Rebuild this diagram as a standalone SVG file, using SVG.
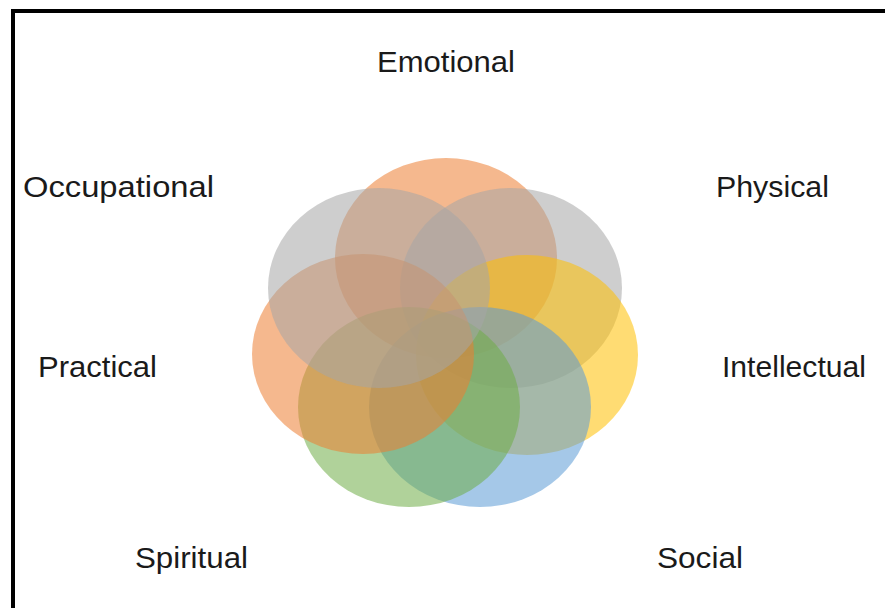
<svg xmlns="http://www.w3.org/2000/svg" width="885" height="608" viewBox="0 0 885 608">
<style>
.lbl{font-family:"Liberation Sans","DejaVu Sans",sans-serif;font-size:30px;fill:#1a1a1a}
.c{fill-opacity:0.55}
</style>
<rect x="0" y="0" width="885" height="608" fill="#ffffff"/>
<path d="M13 608 V11 H885" fill="none" stroke="#000" stroke-width="4"/>
<g id="circles">
<ellipse id="c-emotional" class="c" cx="446" cy="258" rx="111" ry="100" fill="#ED7D31"/>
<ellipse id="c-physical" class="c" cx="511" cy="288" rx="111" ry="100" fill="#A5A5A5"/>
<ellipse id="c-intellectual" class="c" cx="527" cy="355" rx="111" ry="100" fill="#FFC000"/>
<ellipse id="c-social" class="c" cx="480" cy="407" rx="111" ry="100" fill="#5B9BD5"/>
<ellipse id="c-spiritual" class="c" cx="409" cy="407" rx="111" ry="100" fill="#70AD47"/>
<ellipse id="c-practical" class="c" cx="363" cy="354" rx="111" ry="100" fill="#ED7D31"/>
<ellipse id="c-occupational" class="c" cx="379" cy="288" rx="111" ry="100" fill="#A5A5A5"/>
</g>
<g id="connectors"></g>
<g id="emotional"><text class="lbl" x="377" y="72" textLength="138" lengthAdjust="spacingAndGlyphs">Emotional</text></g>
<g id="occupational"><text class="lbl" x="23" y="197" textLength="191" lengthAdjust="spacingAndGlyphs">Occupational</text></g>
<g id="physical"><text class="lbl" x="716" y="197" textLength="113" lengthAdjust="spacingAndGlyphs">Physical</text></g>
<g id="practical"><text class="lbl" x="38" y="377" textLength="119" lengthAdjust="spacingAndGlyphs">Practical</text></g>
<g id="intellectual"><text class="lbl" x="722" y="377" textLength="144" lengthAdjust="spacingAndGlyphs">Intellectual</text></g>
<g id="spiritual"><text class="lbl" x="135" y="568" textLength="113" lengthAdjust="spacingAndGlyphs">Spiritual</text></g>
<g id="social"><text class="lbl" x="657" y="568" textLength="86" lengthAdjust="spacingAndGlyphs">Social</text></g>
</svg>
